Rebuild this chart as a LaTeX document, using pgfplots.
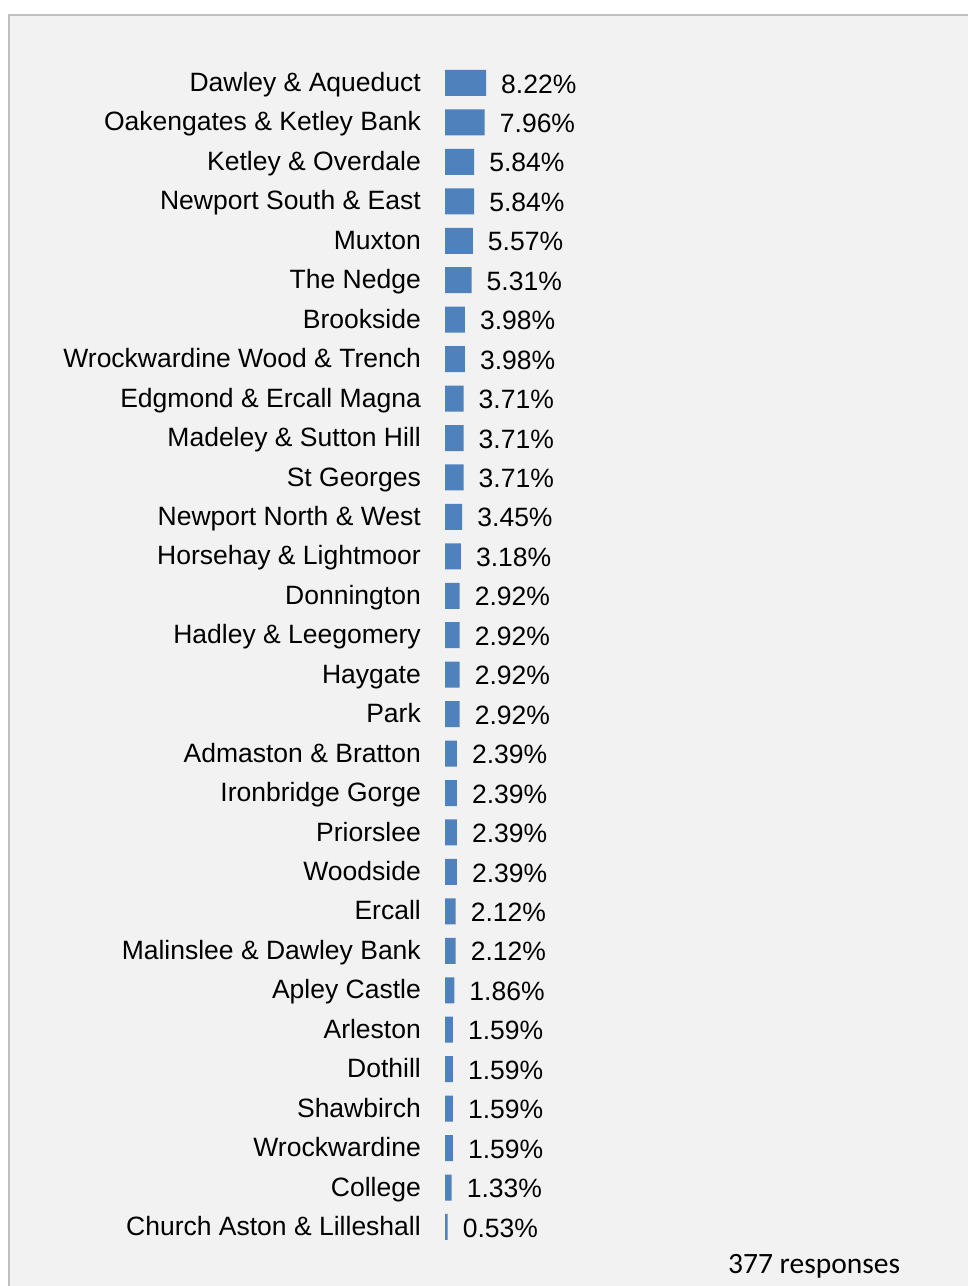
\documentclass[border=0pt]{standalone}
\usepackage{fontspec}
\setmainfont{Liberation Sans}
\newfontfamily\carlito{Carlito}
\usepackage{pgfplots}
\pgfplotsset{compat=1.18}
\definecolor{barblue}{HTML}{4F81BD}
\definecolor{panel}{HTML}{F2F2F2}
\definecolor{frame}{HTML}{BFBFBF}
\begin{document}
\begin{tikzpicture}[x=1bp,y=1bp]
\useasboundingbox (0,0) rectangle (968,1286);
\fill[panel] (9,0) rectangle (968,1271);
\draw[frame, line width=1.5bp] (9,0) -- (9,1271) -- (968,1271);
\begin{axis}[
    at={(445bp,39.3bp)}, anchor=south west,
    scale only axis,
    width=499bp, height=1183.5bp,
    xbar, bar width=26bp,
    xmin=0, xmax=100,
    ymin=-0.5, ymax=29.5,
    y dir=reverse,
    axis line style={draw=none},
    xtick=\empty,
    ytick={0,...,29},
    major tick length=0pt,
    yticklabels={Dawley \& Aqueduct, Oakengates \& Ketley Bank, Ketley \& Overdale,
      Newport South \& East, Muxton, The Nedge, Brookside, Wrockwardine Wood \& Trench,
      Edgmond \& Ercall Magna, Madeley \& Sutton Hill, St Georges, Newport North \& West,
      Horsehay \& Lightmoor, Donnington, Hadley \& Leegomery, Haygate, Park,
      Admaston \& Bratton, Ironbridge Gorge, Priorslee, Woodside, Ercall,
      Malinslee \& Dawley Bank, Apley Castle, Arleston, Dothill, Shawbirch,
      Wrockwardine, College, Church Aston \& Lilleshall},
    yticklabel style={font=\fontsize{26.5bp}{30bp}\selectfont, anchor=east,
      inner sep=0pt, xshift=-24bp, yshift=-5bp, text height=0.72em, text depth=0pt},
    point meta=x,
    nodes near coords={\pgfmathprintnumber[fixed,precision=2,fixed zerofill]{\pgfplotspointmeta}\%},
    /pgf/number format/assume math mode=true,
    nodes near coords align=horizontal,
    every node near coord/.append style={font=\fontsize{26.5bp}{30bp}\selectfont,
      anchor=west, inner sep=0pt, xshift=15bp, text height=0.72em, text depth=0pt,
      yshift=-6.5bp, black},
    clip=false,
]
\addplot[fill=barblue, draw=none] coordinates {
  (8.22,0) (7.96,1) (5.84,2) (5.84,3) (5.57,4) (5.31,5) (3.98,6) (3.98,7)
  (3.71,8) (3.71,9) (3.71,10) (3.45,11) (3.18,12) (2.92,13) (2.92,14)
  (2.92,15) (2.92,16) (2.39,17) (2.39,18) (2.39,19) (2.39,20) (2.12,21)
  (2.12,22) (1.86,23) (1.59,24) (1.59,25) (1.59,26) (1.59,27) (1.33,28)
  (0.53,29)
};
\end{axis}
\node[anchor=base west, inner sep=0pt, font=\carlito\fontsize{29.5bp}{34bp}\selectfont] at (728,12) {377 responses};
\end{tikzpicture}
\end{document}
